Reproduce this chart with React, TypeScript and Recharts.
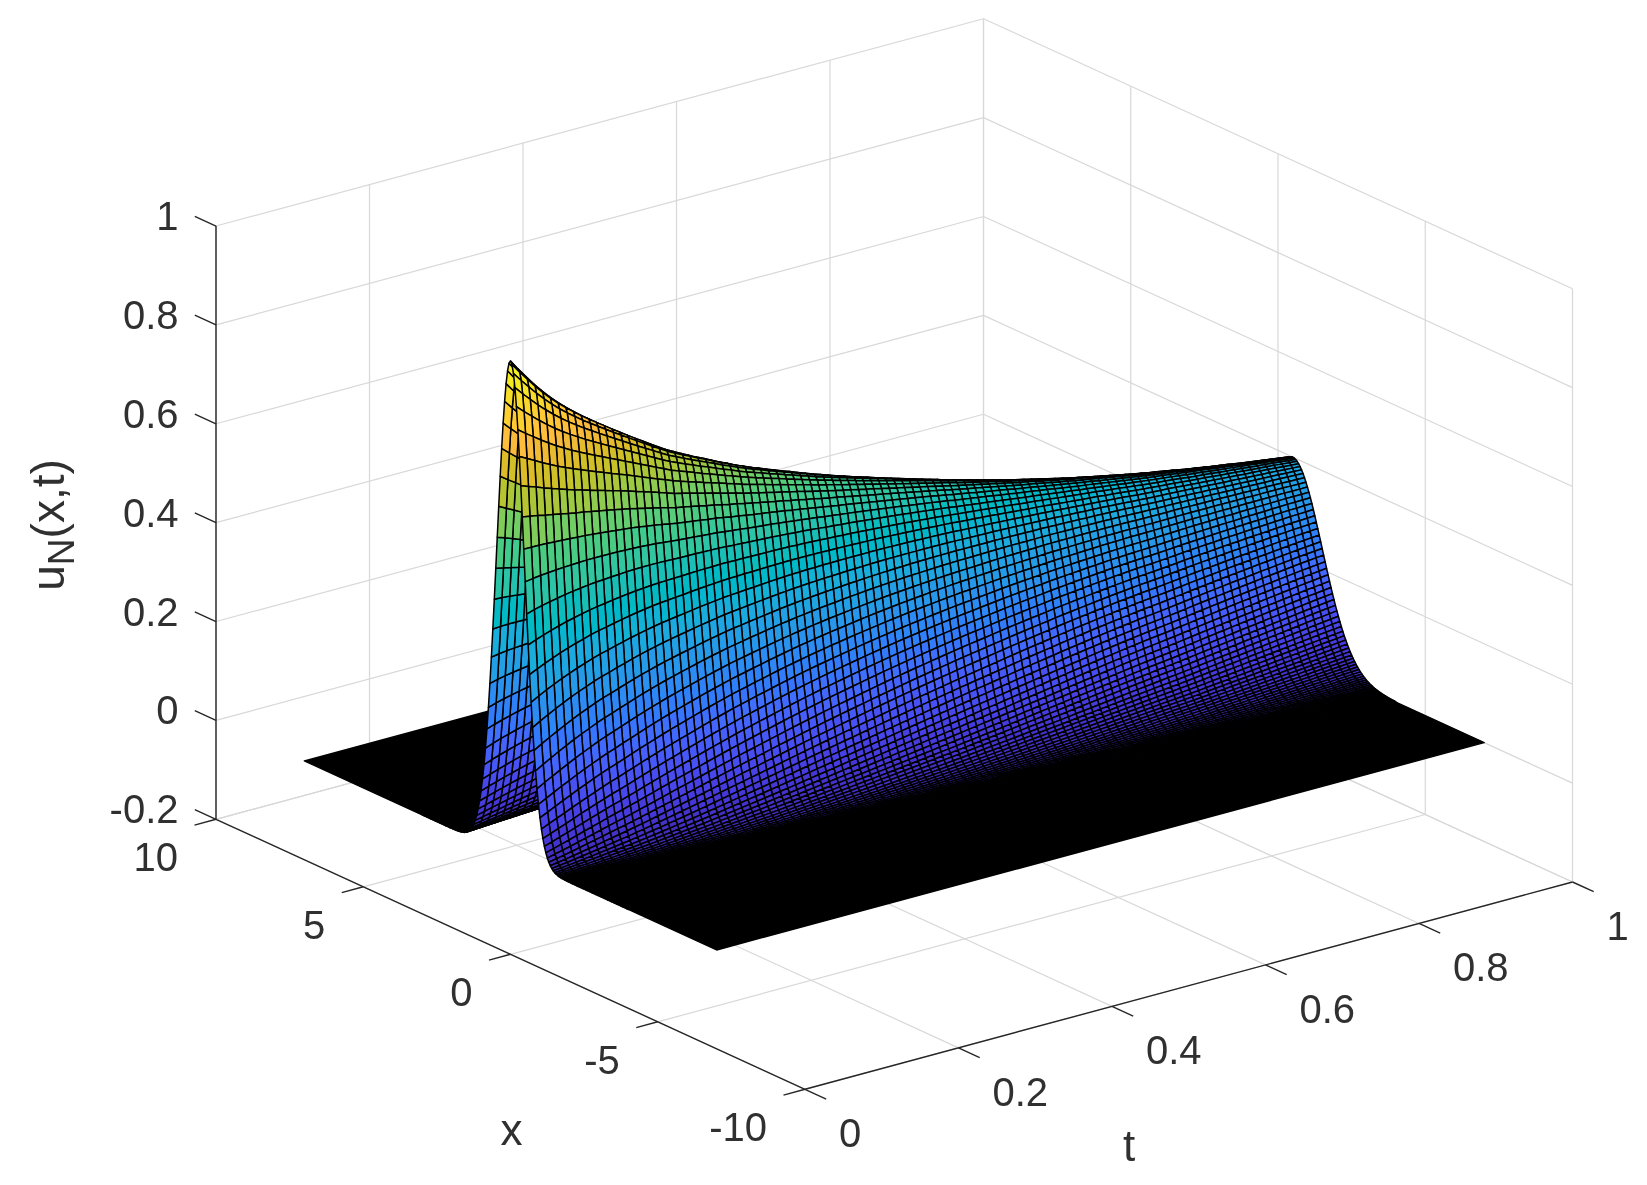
import { Scatter, ScatterChart, XAxis, YAxis } from "recharts";

const WIDTH = 1647;
const HEIGHT = 1185;

// axis ticks
const tTicks = [0, 0.2, 0.4, 0.6, 0.8, 1];
const xTicks = [-10, -5, 0, 5, 10];
const zTicks = [-0.2, 0, 0.2, 0.4, 0.6, 0.8, 1];

// mesh stations. Outside of this x range the sheet is flat and reads as solid black
const tValues = [0,0.01,0.02,0.03,0.04,0.05,0.06,0.07,0.08,0.09,0.1,0.11,0.12,0.13,0.14,0.15,0.16,0.17,0.18,0.19,0.2,0.21,0.22,0.23,0.24,0.25,0.26,0.27,0.28,0.29,0.3,0.31,0.32,0.33,0.34,0.35,0.36,0.37,0.38,0.39,0.4,0.41,0.42,0.43,0.44,0.45,0.46,0.47,0.48,0.49,0.5,0.51,0.52,0.53,0.54,0.55,0.56,0.57,0.58,0.59,0.6,0.61,0.62,0.63,0.64,0.65,0.66,0.67,0.68,0.69,0.7,0.71,0.72,0.73,0.74,0.75,0.76,0.77,0.78,0.79,0.8,0.81,0.82,0.83,0.84,0.85,0.86,0.87,0.88,0.89,0.9,0.91,0.92,0.93,0.94,0.95,0.96,0.97,0.98,0.99,1];
const xValues = [-4,-3.95,-3.9,-3.85,-3.8,-3.75,-3.7,-3.65,-3.6,-3.55,-3.5,-3.45,-3.4,-3.35,-3.3,-3.25,-3.2,-3.15,-3.1,-3.05,-3,-2.95,-2.9,-2.85,-2.8,-2.75,-2.7,-2.65,-2.6,-2.55,-2.5,-2.45,-2.4,-2.35,-2.3,-2.25,-2.2,-2.15,-2.1,-2.05,-2,-1.95,-1.9,-1.85,-1.8,-1.75,-1.7,-1.65,-1.6,-1.55,-1.5,-1.45,-1.4,-1.35,-1.3,-1.25,-1.2,-1.15,-1.1,-1.05,-1,-0.95,-0.9,-0.85,-0.8,-0.75,-0.7,-0.65,-0.6,-0.55,-0.5,-0.45,-0.4,-0.35,-0.3,-0.25,-0.2,-0.15,-0.1,-0.05,0,0.05,0.1,0.15,0.2,0.25,0.3,0.35,0.4,0.45,0.5,0.55,0.6,0.65,0.7,0.75,0.8,0.85,0.9,0.95,1,1.05,1.1,1.15,1.2,1.25,1.3,1.35,1.4,1.45,1.5,1.55,1.6,1.65,1.7,1.75,1.8,1.85,1.9,1.95,2,2.05,2.1,2.15,2.2,2.25,2.3,2.35,2.4,2.45,2.5,2.55,2.6,2.65,2.7,2.75,2.8,2.85,2.9,2.95,3];

// u along the t=0 edge and along the t=1 edge at each x station
const startEdge = [1.7e-16,4.1e-16,1e-15,2.4e-15,5.8e-15,1.4e-14,3.2e-14,7.4e-14,1.7e-13,3.8e-13,8.4e-13,1.9e-12,4e-12,8.6e-12,1.8e-11,3.9e-11,8.1e-11,1.7e-10,3.4e-10,6.7e-10,1.3e-9,2.6e-9,5.1e-9,9.8e-9,1.9e-8,3.5e-8,6.5e-8,1.2e-7,2.2e-7,3.9e-7,6.9e-7,1.2e-6,2.1e-6,3.6e-6,6.1e-6,1e-5,1.7e-5,2.8e-5,4.5e-5,7e-5,0.00011,0.00018,0.00028,0.00042,0.00064,0.00096,0.00142,0.00207,0.00299,0.00428,0.00605,0.00846,0.01169,0.01597,0.02158,0.02881,0.03806,0.04968,0.06413,0.08186,0.10331,0.12889,0.15904,0.19399,0.2339,0.27889,0.32882,0.38327,0.44168,0.50325,0.56695,0.6315,0.69544,0.75726,0.81521,0.86773,0.9132,0.95021,0.97756,0.99434,1,0.99434,0.97756,0.95021,0.9132,0.86773,0.81521,0.75726,0.69544,0.6315,0.56695,0.50325,0.44168,0.38327,0.32882,0.27889,0.2339,0.19399,0.15904,0.12889,0.10331,0.08186,0.06413,0.04968,0.03806,0.02881,0.02158,0.01597,0.01169,0.00846,0.00605,0.00428,0.00299,0.00207,0.00142,0.00096,0.00064,0.00042,0.00028,0.00018,0.00011,7e-5,4.5e-5,2.8e-5,1.7e-5,1e-5,6.1e-6,3.6e-6,2.1e-6,1.2e-6,6.9e-7,3.9e-7,2.2e-7,1.2e-7,6.5e-8,3.5e-8,1.9e-8,9.8e-9,5.1e-9,2.6e-9,1.3e-9];
const endEdge = [0.00088,0.00104,0.00124,0.00146,0.00173,0.00204,0.00239,0.0028,0.00328,0.00382,0.00444,0.00516,0.00597,0.00689,0.00794,0.00912,0.01045,0.01194,0.01362,0.01549,0.01758,0.01989,0.02245,0.02528,0.0284,0.03182,0.03557,0.03966,0.0441,0.04893,0.05414,0.05975,0.06579,0.07226,0.07916,0.08651,0.0943,0.10254,0.11122,0.12033,0.12986,0.1398,0.15012,0.16082,0.17182,0.18313,0.1947,0.20649,0.21843,0.23049,0.24261,0.25473,0.26679,0.27872,0.29046,0.30194,0.31308,0.32383,0.33411,0.34385,0.353,0.36148,0.36925,0.37624,0.3824,0.38769,0.39208,0.39552,0.398,0.3995,0.4,0.3995,0.398,0.39552,0.39208,0.38769,0.3824,0.37624,0.36925,0.36148,0.353,0.34385,0.33411,0.32383,0.31308,0.30194,0.29046,0.27872,0.26679,0.25473,0.24261,0.23049,0.21843,0.20649,0.1947,0.18313,0.17182,0.16082,0.15012,0.1398,0.12986,0.12033,0.11122,0.10254,0.0943,0.08651,0.07916,0.07226,0.06579,0.05975,0.05414,0.04893,0.0441,0.03966,0.03557,0.03182,0.0284,0.02528,0.02245,0.01989,0.01758,0.01549,0.01362,0.01194,0.01045,0.00912,0.00794,0.00689,0.00597,0.00516,0.00444,0.00382,0.00328,0.0028,0.00239,0.00204,0.00173,0.00146,0.00124,0.00104,0.00088];

// how far each t station has moved from the t=0 edge and towards the t=1 edge,
// fitted to the ridge height and the width of the hump. The table is only as good as this fit
const startWeight = [1,0.96,0.923,0.888,0.855,0.824,0.796,0.77,0.745,0.722,0.702,0.681,0.661,0.641,0.622,0.604,0.586,0.569,0.553,0.537,0.5215,0.507,0.493,0.4795,0.4665,0.454,0.442,0.4305,0.419,0.408,0.397,0.3865,0.3765,0.3667,0.3572,0.3479,0.3389,0.3301,0.3215,0.3132,0.305,0.297,0.2892,0.2815,0.274,0.2666,0.2594,0.2523,0.2454,0.2386,0.232,0.2254,0.2189,0.2125,0.2062,0.2,0.1939,0.1879,0.1819,0.176,0.17,0.1644,0.1588,0.1533,0.1479,0.1426,0.1373,0.1321,0.127,0.1219,0.117,0.1122,0.1075,0.1029,0.0984,0.094,0.0897,0.0855,0.0814,0.0774,0.0734,0.0692,0.0651,0.061,0.057,0.053,0.0491,0.0452,0.0414,0.0376,0.034,0.0304,0.0268,0.0233,0.0198,0.0164,0.013,0.0096,0.0063,0.0031,0];
const endWeight = [0,0.02,0.039,0.058,0.076,0.093,0.109,0.124,0.138,0.152,0.165,0.178,0.191,0.204,0.217,0.23,0.243,0.256,0.269,0.282,0.295,0.306,0.317,0.328,0.339,0.349,0.36,0.371,0.381,0.392,0.402,0.412,0.421,0.431,0.44,0.45,0.459,0.469,0.478,0.488,0.497,0.506,0.515,0.524,0.533,0.542,0.551,0.56,0.569,0.578,0.587,0.596,0.605,0.614,0.623,0.632,0.642,0.651,0.66,0.669,0.678,0.687,0.696,0.705,0.714,0.723,0.731,0.74,0.749,0.758,0.767,0.775,0.784,0.792,0.8,0.809,0.817,0.825,0.834,0.842,0.85,0.858,0.866,0.873,0.881,0.889,0.897,0.905,0.912,0.92,0.928,0.935,0.942,0.95,0.957,0.964,0.971,0.978,0.986,0.993,1];

const PARULA = [
  [0.2422,0.1504,0.6603],[0.2504,0.165,0.7076],[0.2578,0.1818,0.7511],[0.2647,0.1978,0.7952],[0.2706,0.2147,0.8364],[0.2751,0.2342,0.871],[0.2783,0.2559,0.8991],[0.2803,0.2782,0.9221],
  [0.2813,0.3006,0.9414],[0.281,0.3228,0.9579],[0.2795,0.3447,0.9717],[0.276,0.3667,0.9829],[0.2699,0.3892,0.9906],[0.2602,0.4123,0.9952],[0.244,0.4358,0.9988],[0.2206,0.4603,0.9973],
  [0.1963,0.4847,0.9892],[0.1834,0.5074,0.9798],[0.1786,0.5289,0.9682],[0.1764,0.5499,0.952],[0.1687,0.5703,0.9359],[0.154,0.5902,0.9218],[0.146,0.6091,0.9079],[0.138,0.6276,0.8973],
  [0.1248,0.6459,0.8883],[0.1113,0.6635,0.8763],[0.0952,0.6798,0.8598],[0.0689,0.6948,0.8394],[0.0297,0.7082,0.8163],[0.0036,0.7203,0.7917],[0.0067,0.7312,0.766],[0.0433,0.7411,0.7394],
  [0.0964,0.75,0.712],[0.1408,0.7584,0.6842],[0.1717,0.767,0.6554],[0.1938,0.7758,0.6251],[0.2161,0.7843,0.5923],[0.247,0.7918,0.5567],[0.2906,0.7973,0.5188],[0.3406,0.8008,0.4789],
  [0.3909,0.8029,0.4354],[0.4456,0.8024,0.3909],[0.5044,0.7993,0.348],[0.5616,0.7942,0.3045],[0.6174,0.7876,0.2612],[0.672,0.7793,0.2227],[0.7242,0.7698,0.191],[0.7738,0.7598,0.1646],
  [0.8203,0.7498,0.1535],[0.8634,0.7406,0.1596],[0.9035,0.733,0.1774],[0.9393,0.7288,0.21],[0.9728,0.7298,0.2394],[0.9956,0.7434,0.2371],[0.997,0.7659,0.2199],[0.9952,0.7893,0.2028],
  [0.9892,0.8136,0.1885],[0.9786,0.8386,0.1766],[0.9676,0.8639,0.1643],[0.961,0.889,0.1537],[0.9597,0.9135,0.1423],[0.9628,0.9373,0.1265],[0.9691,0.9606,0.1064],[0.9769,0.9839,0.0805],
];

const parulaColor = (u: number) => {
  const c = PARULA[Math.max(0, Math.min(63, Math.round(u * 63)))];
  return `rgb(${Math.round(c[0] * 255)},${Math.round(c[1] * 255)},${Math.round(c[2] * 255)})`;
};

// MATLAB style orthographic view of the box, in chart units
const project = (t: number, x: number, z: number) => ({
  px: 805 + 767.5 * t - 29.45 * (x + 10),
  py: 1089.3 - 207.3 * t - 13.5 * (x + 10) - 494.4 * (z + 0.2),
});

const uAt = (i: number, j: number) =>
  Math.pow(startEdge[i], startWeight[j]) * Math.pow(endEdge[i], endWeight[j]);

const makeCell = (corners: { px: number; py: number }[], fill: string) => {
  const px = corners.reduce((a, c) => a + c.px, 0) / corners.length;
  const py = corners.reduce((a, c) => a + c.py, 0) / corners.length;
  return { px, py, fill, offsets: corners.map((c) => [c.px - px, c.py - py]) };
};

const flatStrip = (x0: number, x1: number) =>
  makeCell([project(0, x0, 0), project(1, x0, 0), project(1, x1, 0), project(0, x1, 0)], "#000");

// painter's order: far x first, far t first
const surfaceCells = [flatStrip(3, 7)];
for (let i = xValues.length - 2; i >= 0; i--) {
  for (let j = tValues.length - 2; j >= 0; j--) {
    const corners = [
      project(tValues[j], xValues[i], uAt(i, j)),
      project(tValues[j + 1], xValues[i], uAt(i, j + 1)),
      project(tValues[j + 1], xValues[i + 1], uAt(i + 1, j + 1)),
      project(tValues[j], xValues[i + 1], uAt(i + 1, j)),
    ];
    surfaceCells.push(makeCell(corners, parulaColor((uAt(i, j) + uAt(i + 1, j + 1)) / 2)));
  }
}
surfaceCells.push(flatStrip(-7, -4));

const Z_MIN = -0.2;
const Z_MAX = 1;
const gridLines = [
  ...tTicks.map((t) => [project(t, -10, Z_MIN), project(t, 10, Z_MIN)]),
  ...tTicks.map((t) => [project(t, 10, Z_MIN), project(t, 10, Z_MAX)]),
  ...xTicks.map((x) => [project(0, x, Z_MIN), project(1, x, Z_MIN)]),
  ...xTicks.map((x) => [project(1, x, Z_MIN), project(1, x, Z_MAX)]),
  ...zTicks.map((z) => [project(0, 10, z), project(1, 10, z)]),
  ...zTicks.map((z) => [project(1, 10, z), project(1, -10, z)]),
];

const TICK = 0.028; // tick length as a share of the t span
const axisLines = [
  [project(0, 10, Z_MIN), project(0, 10, Z_MAX)],
  [project(0, 10, Z_MIN), project(0, -10, Z_MIN)],
  [project(0, -10, Z_MIN), project(1, -10, Z_MIN)],
  ...zTicks.map((z) => [project(0, 10, z), project(0, 10 + 0.72, z)]),
  ...xTicks.map((x) => [project(0, x, Z_MIN), project(-TICK, x, Z_MIN)]),
  ...tTicks.map((t) => [project(t, -10, Z_MIN), project(t, -10.72, Z_MIN)]),
];

const tickLabels = [
  ...zTicks.map((z) => ({ ...project(0, 10, z), text: String(z), dx: -37.5, dy: -10, anchor: "end" })),
  ...xTicks.map((x) => ({ ...project(0, x, Z_MIN), text: String(x), dx: -38, dy: 38, anchor: "end" })),
  ...tTicks.map((t) => ({ ...project(t, -10, Z_MIN), text: String(t), dx: 34, dy: 44, anchor: "start" })),
];
const axisNames = [
  { px: 511.5, py: 1129, text: "x" },
  { px: 1129, py: 1145, text: "t" },
];
const zName = [{ px: 48, py: 525 }];

const FONT = "'Liberation Sans', Arial, sans-serif";
const TEXT_COLOR = "#303030";

const CellShape = (props: any) => {
  const { cx, cy, payload } = props;
  const points = payload.offsets
    .map((o: number[]) => `${(cx + o[0]).toFixed(2)},${(cy + o[1]).toFixed(2)}`)
    .join(" ");
  return <polygon points={points} fill={payload.fill} stroke="#000" strokeWidth={1.5} strokeLinejoin="round" />;
};

const TickText = (props: any) => {
  const { cx, cy, payload } = props;
  return (
    <text x={cx + (payload.dx ?? 0)} y={cy + (payload.dy ?? 0)} textAnchor={payload.anchor ?? "middle"} dominantBaseline="central" fontFamily={FONT} fontSize={payload.anchor ? 40 : 44} fill={TEXT_COLOR}>
      {payload.text}
    </text>
  );
};

const ZNameText = (props: any) => {
  const { cx, cy } = props;
  return (
    <text transform={`rotate(-90 ${cx} ${cy})`} x={cx} y={cy} textAnchor="middle" dominantBaseline="central" fontFamily={FONT} fontSize={46} fill={TEXT_COLOR}>
      u<tspan dy={13} fontSize={37}>N</tspan>
      <tspan dy={-13}>(x,t)</tspan>
    </text>
  );
};

const NoPoint = () => null;

export default function App() {
  return (
    <div style={{ position: "absolute", left: 0, top: 0, width: WIDTH, height: HEIGHT, filter: "blur(0.5px)" }}>
      <ScatterChart width={WIDTH} height={HEIGHT} margin={{ top: 0, right: 0, bottom: 0, left: 0 }}>
        <XAxis type="number" dataKey="px" domain={[0, WIDTH]} hide />
        <YAxis type="number" dataKey="py" domain={[0, HEIGHT]} reversed hide />
        {gridLines.map((seg, i) => (
          <Scatter key={`grid-${i}`} data={seg} line={{ stroke: "#d8d8d8", strokeWidth: 1.2 }} shape={NoPoint} isAnimationActive={false} />
        ))}
        <Scatter data={surfaceCells} shape={CellShape} isAnimationActive={false} />
        {axisLines.map((seg, i) => (
          <Scatter key={`axis-${i}`} data={seg} line={{ stroke: "#262626", strokeWidth: 1.4 }} shape={NoPoint} isAnimationActive={false} />
        ))}
        <Scatter data={tickLabels} shape={TickText} isAnimationActive={false} />
        <Scatter data={axisNames} shape={TickText} isAnimationActive={false} />
        <Scatter data={zName} shape={ZNameText} isAnimationActive={false} />
      </ScatterChart>
    </div>
  );
}
